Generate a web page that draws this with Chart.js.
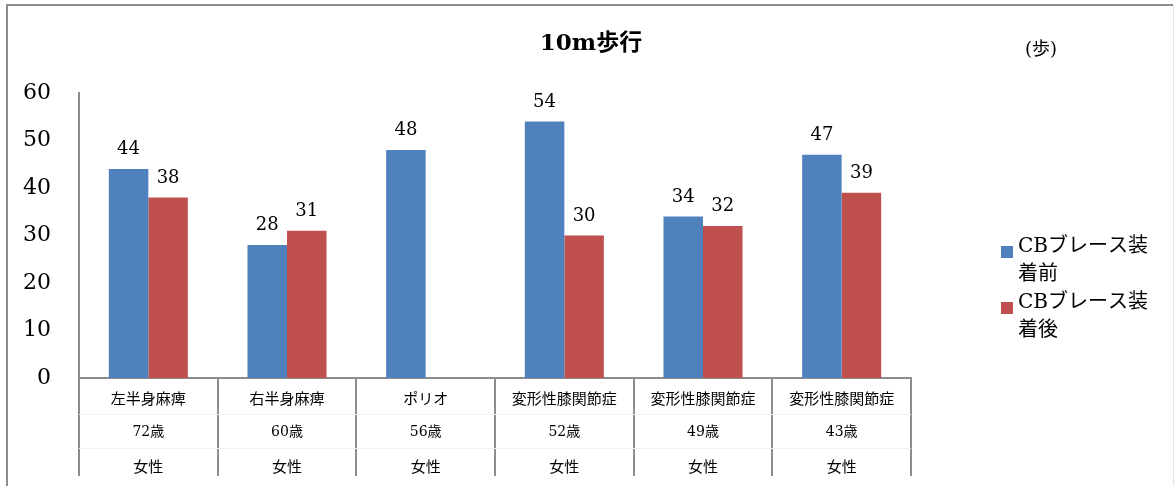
<!DOCTYPE html>
<html lang="ja">
<head>
<meta charset="utf-8">
<title>10m歩行</title>
<script src="https://cdn.jsdelivr.net/npm/chart.js@4/dist/chart.umd.min.js"></script>
<style>
  html, body { margin: 0; padding: 0; background: #fff; }
  #wrap { width: 1175px; height: 486px; position: relative; }
</style>
</head>
<body>
<div id="wrap"><canvas id="walkChart"></canvas></div>
<script>
// data
const diagnoses = ['左半身麻痺', '右半身麻痺', 'ポリオ', '変形性膝関節症', '変形性膝関節症', '変形性膝関節症'];
const ages = ['72歳', '60歳', '56歳', '52歳', '49歳', '43歳'];
const sexes = ['女性', '女性', '女性', '女性', '女性', '女性'];
const beforeBrace = [44, 28, 48, 54, 34, 47];
const afterBrace = [38, 31, null, 30, 32, 39];
const seriesNames = [['CBブレース装', '着前'], ['CBブレース装', '着後']];
const yTicks = [0, 10, 20, 30, 40, 50, 60];

const SERIF = '"DejaVu Serif", "Noto Sans CJK JP", serif';
const JP = '"Noto Sans CJK JP", "DejaVu Serif", sans-serif';
const colors = ['#4F81BD', '#C0504D'];

// frame, title, unit, legend, category table, value labels
const decorations = {
  id: 'decorations',
  beforeDraw(chart) {
    const c = chart.ctx;
    c.save();
    c.fillStyle = '#fff';
    c.fillRect(0, 0, chart.width, chart.height);
    c.strokeStyle = '#8c8c8c';
    c.lineWidth = 2;
    c.beginPath();
    c.moveTo(7, 490); c.lineTo(7, 5); c.lineTo(1173, 5);
    c.stroke();
    c.strokeStyle = '#e2e2e2';
    c.lineWidth = 1;
    c.beginPath();
    c.moveTo(1173.5, 5); c.lineTo(1173.5, 490);
    c.stroke();
    c.restore();
  },
  afterDraw(chart) {
    const c = chart.ctx;
    const x = chart.scales.x;
    const area = chart.chartArea;
    const n = diagnoses.length;
    const half = (x.getPixelForValue(1) - x.getPixelForValue(0)) / 2;
    c.save();

    // title + unit
    c.fillStyle = '#000';
    c.textAlign = 'center';
    c.textBaseline = 'middle';
    c.font = 'bold 23px ' + SERIF;
    c.fillText('10m歩行', 591, 44);
    c.font = '18px ' + SERIF;
    c.fillText('(歩)', 1041, 50);

    // category table
    c.strokeStyle = '#8c8c8c';
    c.lineWidth = 2;
    for (let i = 0; i <= n; i++) {
      const px = i < n ? x.getPixelForValue(i) - half : x.getPixelForValue(n - 1) + half;
      c.beginPath();
      c.moveTo(Math.round(px), area.bottom);
      c.lineTo(Math.round(px), 476);
      c.stroke();
    }
    c.strokeStyle = '#f1f1f1';
    c.lineWidth = 1;
    [414.5, 448.5].forEach(y => {
      c.beginPath();
      c.moveTo(area.left, y); c.lineTo(area.right, y);
      c.stroke();
    });
    c.fillStyle = '#000';
    for (let i = 0; i < n; i++) {
      const cx = x.getPixelForValue(i);
      c.font = '15px ' + JP;
      c.fillText(diagnoses[i], cx, 398);
      c.font = '14px ' + SERIF;
      c.fillText(ages[i], cx, 432);
      c.font = '15px ' + JP;
      c.fillText(sexes[i], cx, 466);
    }

    // value labels
    c.font = '18px ' + SERIF;
    c.textBaseline = 'alphabetic';
    chart.data.datasets.forEach((ds, d) => {
      chart.getDatasetMeta(d).data.forEach((bar, i) => {
        if (ds.data[i] == null) return;
        c.fillText(String(ds.data[i]), bar.x, bar.y - 15);
      });
    });

    // legend
    c.textAlign = 'left';
    c.textBaseline = 'middle';
    c.font = '20px ' + SERIF;
    seriesNames.forEach((lines, d) => {
      const top = 247 + d * 56;
      c.fillStyle = colors[d];
      c.fillRect(1001, top - 1, 12, 12);
      c.fillStyle = '#000';
      lines.forEach((t, k) => c.fillText(t, 1018, top + k * 28));
    });
    c.restore();
  }
};

new Chart(document.getElementById('walkChart'), {
  type: 'bar',
  data: {
    labels: diagnoses,
    datasets: [
      { label: seriesNames[0].join(''), data: beforeBrace, backgroundColor: colors[0] },
      { label: seriesNames[1].join(''), data: afterBrace, backgroundColor: colors[1] }
    ]
  },
  options: {
    responsive: true,
    maintainAspectRatio: false,
    animation: false,
    layout: { padding: { top: 93, right: 264, bottom: 108, left: 0 } },
    categoryPercentage: 0.57,
    barPercentage: 1,
    plugins: {
      legend: { display: false },
      title: { display: false },
      tooltip: { enabled: false }
    },
    scales: {
      x: {
        ticks: { display: false },
        grid: { display: false },
        border: { display: true, color: '#8c8c8c', width: 2 },
        afterFit: s => { s.height = 0; }
      },
      y: {
        min: 0,
        max: 60,
        afterBuildTicks: s => { s.ticks = yTicks.map(v => ({ value: v })); },
        ticks: { color: '#000', padding: 20, font: { family: SERIF, size: 22 } },
        grid: { display: false },
        border: { display: true, color: '#8c8c8c', width: 2 },
        afterFit: s => { s.width = 79; }
      }
    }
  },
  plugins: [decorations]
});
</script>
</body>
</html>
